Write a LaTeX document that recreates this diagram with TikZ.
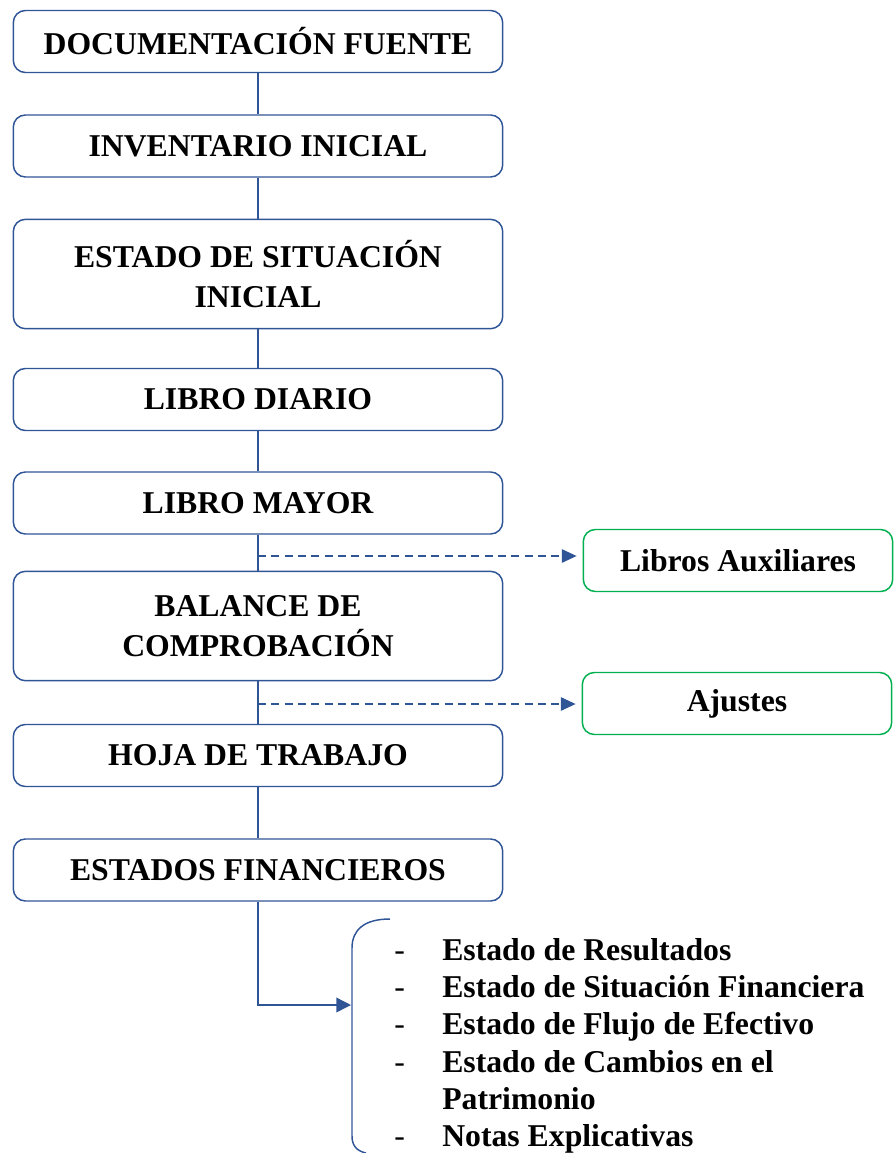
\documentclass[tikz,border=0pt]{standalone}
\usepackage{fontspec}
\setmainfont{Liberation Serif}
\usetikzlibrary{arrows.meta}
\definecolor{flowblue}{RGB}{47,85,151}
\definecolor{sidegreen}{RGB}{0,176,80}

\begin{document}
\begin{tikzpicture}[
x=0.75pt, y=-0.75pt,
stage/.style={draw=flowblue, line width=1.1pt, rounded corners=9pt, minimum width=367pt, minimum height=46.5pt, inner sep=0pt, align=center, font=\bfseries\fontsize{23.8}{30}\selectfont},
tall/.style={stage, minimum height=82pt},
side/.style={stage, draw=sidegreen, minimum width=232pt},
list/.style={inner sep=0pt, align=left, font=\bfseries\fontsize{23.8}{28}\selectfont},
link/.style={draw=flowblue, line width=1.1pt},
dlink/.style={link, dash pattern=on 6pt off 4pt, shorten >=4.5pt, -{Triangle[length=11pt,width=10pt]}},
alink/.style={link, -{Triangle[length=11pt,width=11pt]}} ]

\useasboundingbox (0,0) rectangle (893,1153);

\node[stage] (D) at (258,41.5) {DOCUMENTACIÓN FUENTE};

\node[stage] (I) at (258,146) {INVENTARIO INICIAL};

\node[tall] (S) at (258,274) {ESTADO DE SITUACIÓN\\INICIAL};

\node[stage] (L) at (258,399.5) {LIBRO DIARIO};

\node[stage] (M) at (258,503) {LIBRO MAYOR};

\node[tall] (B) at (258,626) {BALANCE DE\\COMPROBACIÓN};

\node[stage] (H) at (258,755.5) {HOJA DE TRABAJO};

\node[stage] (E) at (258,870) {ESTADOS FINANCIEROS};

\node[side] (X) at (738,560.5) {Libros Auxiliares};

\node[side] (J) at (737,703.5) {Ajustes};

\node[list, anchor=north west] (F) at (394,938) {%
\makebox[36pt][l]{\mdseries -}Estado de Resultados\\
\makebox[36pt][l]{\mdseries -}Estado de Situación Financiera\\
\makebox[36pt][l]{\mdseries -}Estado de Flujo de Efectivo\\
\makebox[36pt][l]{\mdseries -}Estado de Cambios en el\\
\hspace*{36pt}Patrimonio\\
\makebox[36pt][l]{\mdseries -}Notas Explicativas};

\coordinate (mx) at (258,556);

\coordinate (bx) at (258,704);

\coordinate (F0) at (351,1005);


\draw[link] (D) -- (I);

\draw[link] (I) -- (S);

\draw[link] (S) -- (L);

\draw[link] (L) -- (M);

\draw[link] (M) -- (B);

\draw[link] (B) -- (H);

\draw[link] (H) -- (E);

\draw[dlink] (mx) -- (mx -| X.west);

\draw[dlink] (bx) -- (bx -| J.west);

\draw[alink] (E) |- (F0);

\draw[link] (390,919) .. controls (364,919) and (352,930) .. (352,948) -- (352,1136) .. controls (352,1146) and (357,1151) .. (366,1153);

\end{tikzpicture}
\end{document}
